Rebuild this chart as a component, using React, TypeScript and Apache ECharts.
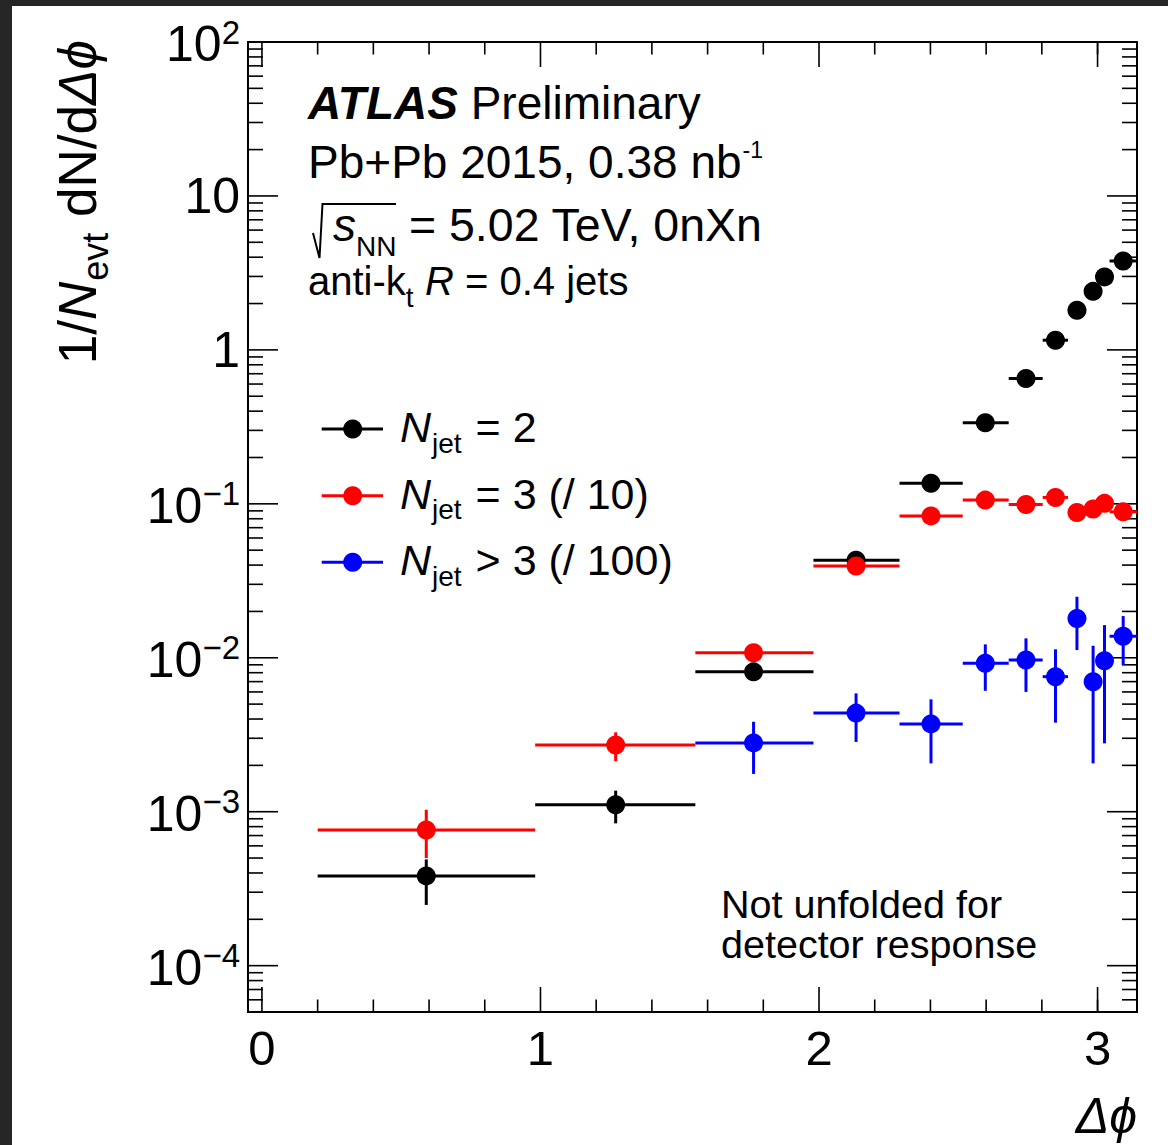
import React, { useEffect, useRef } from "react";
import * as echarts from "echarts";

const FONT = '"Liberation Sans", Arial, Helvetica, sans-serif';

// ---- binning in delta phi ----
const binCenter = [0.59, 1.27, 1.765, 2.133, 2.402, 2.597, 2.743, 2.849, 2.926, 2.984, 3.025, 3.092];
const binLow = [0.2, 0.981, 1.556, 1.98, 2.289, 2.516, 2.681, 2.803, 2.894, 2.959, 3.008, 3.043];
const binHigh = [0.981, 1.556, 1.98, 2.289, 2.516, 2.681, 2.803, 2.894, 2.959, 3.008, 3.043, 3.1416];

// ---- N_jet = 2 ----
const njet2 = [3.83e-4, 1.11e-3, 8.1e-3, 0.043, 0.136, 0.336, 0.652, 1.156, 1.81, 2.4, 2.98, 3.78];
const njet2Lo = [2.48e-4, 8.4e-4, 7.8e-3, 0.0415, 0.132, 0.33, 0.64, 1.14, 1.78, 2.36, 2.93, 3.72];
const njet2Hi = [4.9e-4, 1.37e-3, 8.4e-3, 0.0445, 0.14, 0.342, 0.664, 1.17, 1.84, 2.44, 3.03, 3.84];

// ---- N_jet = 3 (/10) ----
const njet3 = [7.6e-4, 2.71e-3, 0.01077, 0.0394, 0.0835, 0.1057, 0.0991, 0.11, 0.0879, 0.0925, 0.1007, 0.0887];
const njet3Lo = [5.0e-4, 2.13e-3, 0.0103, 0.0381, 0.081, 0.1025, 0.096, 0.1065, 0.085, 0.0895, 0.0975, 0.0858];
const njet3Hi = [1.03e-3, 3.28e-3, 0.0113, 0.0407, 0.086, 0.109, 0.1022, 0.1135, 0.0908, 0.0955, 0.104, 0.0916];

// ---- N_jet > 3 (/100), starts at third bin ----
const njet4FirstBin = 2;
const njet4 = [2.8e-3, 4.37e-3, 3.72e-3, 9.2e-3, 9.66e-3, 7.54e-3, 0.018, 6.98e-3, 9.57e-3, 0.0138];
const njet4Lo = [1.76e-3, 2.84e-3, 2.06e-3, 6.1e-3, 6.0e-3, 3.79e-3, 0.01122, 2.06e-3, 2.78e-3, 8.97e-3];
const njet4Hi = [3.84e-3, 5.87e-3, 5.37e-3, 0.01222, 0.01337, 0.01135, 0.0249, 0.01197, 0.0163, 0.01866];

// ---- axes ----
const X_MIN = -0.05;
const X_MAX = Math.PI;
const Y_MIN = 5e-5;
const Y_MAX = 100;
const xLabelTicks = [0, 1, 2, 3];
const xMinorTicks = [0.2, 0.4, 0.6, 0.8, 1.2, 1.4, 1.6, 1.8, 2.2, 2.4, 2.6, 2.8, 3.0];
const yLabelTicks = [1e-4, 1e-3, 1e-2, 1e-1, 1, 10, 100];
const yMinorMultipliers = [2, 3, 4, 5, 6, 7, 8, 9];
const yDecades = [1e-5, 1e-4, 1e-3, 1e-2, 1e-1, 1, 10];

let _ctx: CanvasRenderingContext2D | null = null;
function tw(text: string, size: number, italic = false, bold = false): number {
  if (!_ctx) _ctx = document.createElement("canvas").getContext("2d");
  _ctx!.font = `${italic ? "italic" : "normal"} ${bold ? "bold" : "normal"} ${size}px ${FONT}`;
  return _ctx!.measureText(text).width;
}

function T(x: number, base: number, text: string, size: number, italic = false, bold = false, align = "left", fill = "#000"): any {
  return {
    type: "text",
    x,
    y: base - 0.3465 * size,
    style: {
      text,
      fontSize: size,
      fontFamily: FONT,
      fontStyle: italic ? "italic" : "normal",
      fontWeight: bold ? "bold" : "normal",
      fill,
      align,
      textAlign: align,
      verticalAlign: "middle",
      textVerticalAlign: "middle",
    },
  };
}

type Part = { t: string; s: number; i?: boolean; b?: boolean; dy?: number; dx?: number; x?: number };
function runs(x: number, base: number, parts: Part[]): { els: any[]; width: number } {
  const els: any[] = [];
  let cx = x;
  for (const p of parts) {
    if (p.x !== undefined) cx = p.x;
    cx += p.dx || 0;
    els.push(T(cx, base + (p.dy || 0), p.t, p.s, !!p.i, !!p.b));
    cx += tw(p.t, p.s, !!p.i, !!p.b);
  }
  return { els, width: cx - x };
}

function buildTickData(): number[][] {
  const d: number[][] = [];
  // side: 0 bottom, 1 top, 2 left, 3 right ; len
  for (const v of xLabelTicks) {
    d.push([v, Y_MIN, 0, 25]);
    d.push([v, Y_MAX, 1, 25]);
  }
  for (const v of xMinorTicks) {
    d.push([v, Y_MIN, 0, 12.5]);
    d.push([v, Y_MAX, 1, 12.5]);
  }
  for (const v of yLabelTicks) {
    d.push([X_MIN, v, 2, 30]);
    d.push([X_MAX, v, 3, 30]);
  }
  for (const dec of yDecades) {
    for (const m of yMinorMultipliers) {
      const v = dec * m;
      if (v > Y_MIN * 1.001 && v < Y_MAX) {
        d.push([X_MIN, v, 2, 15]);
        d.push([X_MAX, v, 3, 15]);
      }
    }
  }
  return d;
}

function errorSeries(name: string, color: string, first: number, vals: number[], lo: number[], hi: number[], z: number): any[] {
  const rows = vals.map((v, k) => {
    const b = k + first;
    return [binCenter[b], v, binLow[b], binHigh[b], lo[k], hi[k]];
  });
  return [
    {
      name: name + " errors",
      type: "custom",
      coordinateSystem: "cartesian2d",
      z,
      silent: true,
      encode: { x: 0, y: 1 },
      data: rows,
      renderItem: (_p: any, api: any) => {
        const xc = api.value(0), y = api.value(1), xl = api.value(2), xh = api.value(3), yl = api.value(4), yh = api.value(5);
        const a = api.coord([xl, y]);
        const b = api.coord([xh, y]);
        const c = api.coord([xc, yh]);
        const d = api.coord([xc, yl]);
        return {
          type: "group",
          children: [
            { type: "line", shape: { x1: a[0], y1: a[1], x2: b[0], y2: b[1] }, style: { stroke: color, lineWidth: 3 } },
            { type: "line", shape: { x1: c[0], y1: c[1], x2: d[0], y2: d[1] }, style: { stroke: color, lineWidth: 3 } },
          ],
        };
      },
    },
    {
      name,
      type: "scatter",
      z: z + 1,
      symbol: "circle",
      symbolSize: 19,
      itemStyle: { color, opacity: 1 },
      data: rows.map((r) => [r[0], r[1]]),
      silent: true,
    },
  ];
}

function buildOption(): any {
  const graphics: any[] = [];
  // dark screenshot border
  graphics.push({ type: "rect", shape: { x: 0, y: 0, width: 12, height: 1145 }, style: { fill: "#262626" }, z: 100 });
  graphics.push({ type: "rect", shape: { x: 0, y: 0, width: 1168, height: 6 }, style: { fill: "#262626" }, z: 100 });

  // ATLAS label block
  const l1 = runs(308, 119, [{ t: "ATLAS", s: 46, i: true, b: true }, { t: " Preliminary", s: 46 }]);
  const l2 = runs(308, 178, [{ t: "Pb+Pb 2015, 0.38 nb", s: 46 }, { t: "-1", s: 23, dy: -20, dx: 1 }]);
  const l3 = runs(333, 241, [
    { t: "s", s: 46, i: true },
    { t: "NN", s: 28, dy: 15 },
    { t: " = 5.02 TeV, 0nXn", s: 46.5, x: 396 },
  ]);
  const l4 = runs(308, 295, [
    { t: "anti-k", s: 40 },
    { t: "t", s: 28, dy: 12 },
    { t: "R", s: 40, i: true, x: 425 },
    { t: " = 0.4 jets", s: 40 },
  ]);
  const sqrtSign = {
    type: "polyline",
    shape: { points: [[313, 233], [319.5, 258], [322.5, 204], [396, 204]] },
    style: { stroke: "#000", lineWidth: 2, fill: null },
  };
  const note1 = T(721, 918, "Not unfolded for", 39.5);
  const note2 = T(721, 958, "detector response", 39.5);

  // legend
  const legendRows = [
    { color: "#000000", cy: 429, rest: " = 2" },
    { color: "#ff0000", cy: 495.7, rest: " = 3 (/ 10)" },
    { color: "#0000ff", cy: 562.3, rest: " > 3 (/ 100)" },
  ];
  const legendEls: any[] = [];
  for (const r of legendRows) {
    legendEls.push({ type: "line", shape: { x1: 321.7, y1: r.cy, x2: 383, y2: r.cy }, style: { stroke: r.color, lineWidth: 3 } });
    legendEls.push({ type: "circle", shape: { cx: 352.7, cy: r.cy, r: 9.5 }, style: { fill: r.color } });
    const rr = runs(400, r.cy + 13, [
      { t: "N", s: 43, i: true },
      { t: "jet", s: 28, dy: 11, dx: 1 },
      { t: r.rest, s: 43, dx: 2 },
    ]);
    legendEls.push(...rr.els);
  }

  // y title, rotated
  const ytParts: Part[] = [
    { t: "1/", s: 53 },
    { t: "N", s: 53, i: true },
    { t: "evt", s: 36, dy: 12, dx: 1 },
    { t: " dN/d", s: 53, dx: 1 },
    { t: "Δϕ", s: 53, i: true },
  ];
  const yt = runs(0, 0, ytParts);
  const yTitle = { type: "group", x: 96, y: 40 + yt.width, rotation: Math.PI / 2, children: yt.els };

  // x title
  const xTitle = T(1137, 1133, "Δϕ", 50, true, false, "right");

  graphics.push(
    ...l1.els,
    ...l2.els,
    sqrtSign,
    ...l3.els,
    ...l4.els,
    note1,
    note2,
    ...legendEls,
    yTitle,
    xTitle
  );

  const labelData: number[][] = [
    ...xLabelTicks.map((v) => [v, Y_MIN, 0]),
    ...yLabelTicks.map((v) => [X_MIN, v, 2]),
  ];

  return {
    animation: false,
    backgroundColor: "#ffffff",
    grid: { left: 248, top: 42, width: 889, height: 970, show: true, borderColor: "#000", borderWidth: 2, backgroundColor: "transparent" },
    xAxis: {
      type: "value",
      min: X_MIN,
      max: X_MAX,
      axisLine: { show: false },
      axisTick: { show: false },
      axisLabel: { show: false },
      splitLine: { show: false },
    },
    yAxis: {
      type: "log",
      logBase: 10,
      min: Y_MIN,
      max: Y_MAX,
      axisLine: { show: false },
      axisTick: { show: false },
      axisLabel: { show: false },
      splitLine: { show: false },
      minorTick: { show: false },
    },
    graphic: { elements: graphics },
    series: [
      {
        name: "frame ticks",
        type: "custom",
        coordinateSystem: "cartesian2d",
        z: 1,
        silent: true,
        encode: { x: 0, y: 1 },
        data: buildTickData(),
        renderItem: (_p: any, api: any) => {
          const side = api.value(2);
          const len = api.value(3);
          const p = api.coord([api.value(0), api.value(1)]);
          let x2 = p[0];
          let y2 = p[1];
          if (side === 0) y2 = p[1] - len;
          else if (side === 1) y2 = p[1] + len;
          else if (side === 2) x2 = p[0] + len;
          else x2 = p[0] - len;
          return { type: "line", shape: { x1: p[0], y1: p[1], x2, y2 }, style: { stroke: "#000", lineWidth: 1.6 } };
        },
      },
      {
        name: "axis labels",
        type: "custom",
        coordinateSystem: "cartesian2d",
        z: 1,
        silent: true,
        encode: { x: 0, y: 1 },
        data: labelData,
        renderItem: (_p: any, api: any) => {
          const side = api.value(2);
          if (side === 0) {
            const v = api.value(0);
            const p = api.coord([v, Y_MIN]);
            return T(p[0], p[1] + 53, String(Math.round(v)), 49, false, false, "center");
          }
          const v = api.value(1);
          const p = api.coord([X_MIN, v]);
          const e = Math.round(Math.log10(v));
          const right = p[0] - 8;
          if (e === 0 || e === 1) {
            return T(right, p[1] + 17.8, e === 0 ? "1" : "10", 50, false, false, "right");
          }
          const sup = e < 0 ? "\u2212" + -e : String(e);
          const ws = tw(sup, 33);
          const base = p[1] + 19.5;
          return {
            type: "group",
            children: [
              T(right - ws, base, "10", 50, false, false, "right"),
              T(right - ws, base - 18, sup, 33, false, false, "left"),
            ],
          };
        },
      },
      ...errorSeries("Njet = 2", "#000000", 0, njet2, njet2Lo, njet2Hi, 2),
      ...errorSeries("Njet = 3 (/10)", "#ff0000", 0, njet3, njet3Lo, njet3Hi, 4),
      ...errorSeries("Njet > 3 (/100)", "#0000ff", njet4FirstBin, njet4, njet4Lo, njet4Hi, 6),
    ],
  };
}

export default function App() {
  const ref = useRef<HTMLDivElement>(null);
  useEffect(() => {
    if (!ref.current) return;
    const chart = echarts.init(ref.current, undefined, { renderer: "svg" });
    chart.setOption(buildOption());
    return () => chart.dispose();
  }, []);
  return (
    <div
      ref={ref}
      style={{ position: "fixed", left: 0, top: 0, width: 1168, height: 1145, background: "#fff" }}
    />
  );
}
